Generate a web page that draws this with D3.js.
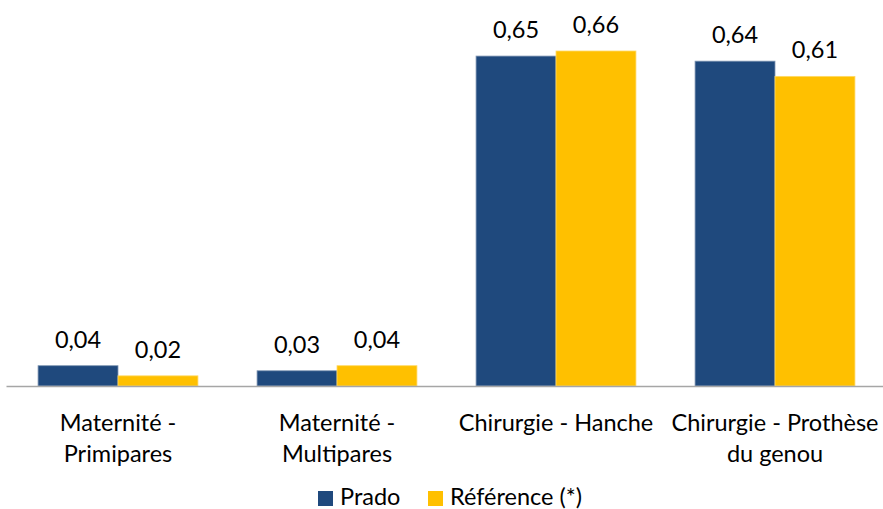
<!DOCTYPE html>
<html>
<head>
<meta charset="utf-8">
<script src="https://cdn.jsdelivr.net/npm/d3@7"></script>
<style>
  html, body { margin: 0; padding: 0; background: #fff; }
  svg { display: block; font-family: Lato, "Open Sans", sans-serif; }
</style>
</head>
<body>
<svg id="chart" width="883" height="509"></svg>
<script>
// Séjours : taux par type de prise en charge
const categories = ["Maternité - Primipares", "Maternité - Multipares", "Chirurgie - Hanche", "Chirurgie - Prothèse du genou"];
const seriesNames = ["Prado", "Référence (*)"];
const prado = [0.04, 0.03, 0.65, 0.64];
const reference = [0.02, 0.04, 0.66, 0.61];
const colors = ["#1f497d", "#ffc000"];

const W = 883, H = 509;
const margin = { left: 8.5, right: -1.5, top: 0, bottom: 123 };
const baseY = 386;
const fontSize = 23.5;

const svg = d3.select("#chart");
const fmt = v => d3.format(".2f")(v).replace(".", ",");

const x0 = d3.scaleBand()
  .domain(categories)
  .range([margin.left, W - margin.right])
  .paddingInner(0.27)
  .paddingOuter(0.135);

const x1 = d3.scaleBand()
  .domain(seriesNames)
  .range([0, x0.bandwidth()]);

const y = d3.scaleLinear()
  .domain([0, 0.66])
  .range([baseY, 51]);

const rows = categories.map((c, i) => ({ cat: c, values: [prado[i], reference[i]] }));

const groups = svg.append("g").selectAll("g")
  .data(rows)
  .join("g")
  .attr("transform", d => `translate(${x0(d.cat)},0)`);

groups.selectAll("rect")
  .data(d => d.values.map((v, j) => ({ v, name: seriesNames[j], j })))
  .join("rect")
  .attr("x", d => x1(d.name))
  .attr("width", x1.bandwidth())
  .attr("y", d => y(d.v))
  .attr("height", d => y(0) - y(d.v))
  .attr("fill", d => colors[d.j])
  .attr("stroke", d => d.j === 0 ? "#7f96b3" : "#ffd966")
  .attr("stroke-width", 0.8);

groups.selectAll("text.val")
  .data(d => d.values.map((v, j) => ({ v, name: seriesNames[j] })))
  .join("text")
  .attr("class", "val")
  .attr("x", d => x1(d.name) + x1.bandwidth() / 2)
  .attr("y", d => y(d.v) - 18)
  .attr("text-anchor", "middle")
  .attr("font-size", fontSize)
  .attr("fill", "#000")
  .text(d => fmt(d.v));

// Axe horizontal
const xAxis = d3.axisBottom(x0).tickSize(0).tickPadding(0);
const axisG = svg.append("g")
  .attr("transform", `translate(0,${baseY})`)
  .call(xAxis);
axisG.select(".domain")
  .attr("d", `M${margin.left - 2},0.5H${W}`)
  .attr("stroke", "#a6a6a6")
  .attr("stroke-width", 1.5);

axisG.selectAll(".tick text")
  .attr("font-size", fontSize)
  .attr("font-family", "Lato, 'Open Sans', sans-serif")
  .attr("fill", "#000")
  .attr("dy", null)
  .each(function (d) {
    const t = d3.select(this);
    const maxW = x0.step() - 2;
    const words = d.split(" ");
    t.text(null);
    const lines = [];
    let cur = [];
    const probe = t.append("tspan");
    words.forEach(w => {
      const test = cur.concat([w]).join(" ");
      probe.text(test);
      if (probe.node().getComputedTextLength() > maxW && cur.length) {
        lines.push(cur.join(" "));
        cur = [w];
      } else {
        cur.push(w);
      }
    });
    lines.push(cur.join(" "));
    probe.remove();
    lines.forEach((ln, k) => {
      t.append("tspan")
        .attr("x", 0)
        .attr("y", 45 + k * 31)
        .text(ln);
    });
  });

// Légende
const legend = svg.append("g").attr("transform", `translate(0,${H - 4})`);
const legendItems = [
  { name: seriesNames[0], color: colors[0], x: 318 },
  { name: seriesNames[1], color: colors[1], x: 428 }
];
legendItems.forEach(it => {
  legend.append("rect")
    .attr("x", it.x).attr("y", -14)
    .attr("width", 15).attr("height", 15)
    .attr("fill", it.color);
  legend.append("text")
    .attr("x", it.x + 22).attr("y", 0)
    .attr("font-size", fontSize)
    .attr("fill", "#000")
    .text(it.name);
});
</script>
</body>
</html>
